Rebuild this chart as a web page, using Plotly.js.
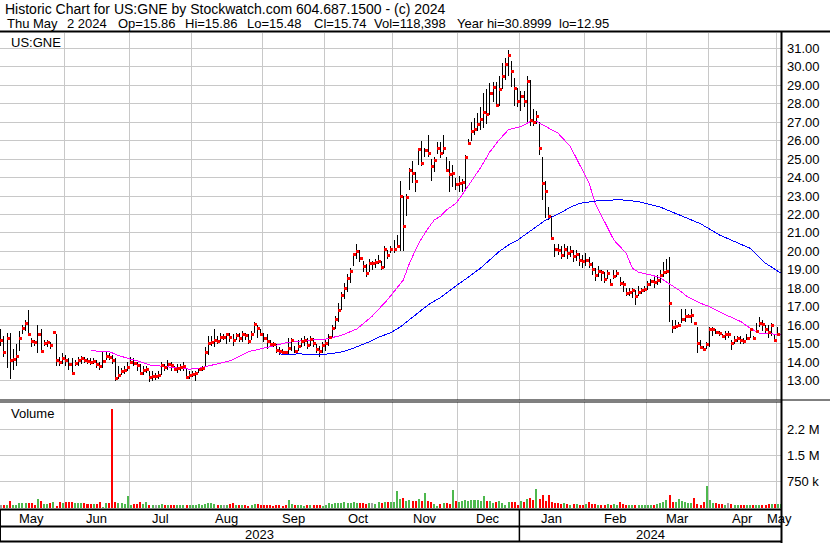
<!DOCTYPE html>
<html><head><meta charset="utf-8">
<script src="https://cdn.plot.ly/plotly-3.0.1.min.js"></script>
<style>
html,body{margin:0;padding:0;background:#fff;}
#chart{width:830px;height:543px;}
.js-plotly-plot .scatterlayer .js-line{shape-rendering:crispEdges;}
.js-plotly-plot .scatterlayer .point{shape-rendering:crispEdges;}
</style></head><body><div id="chart"></div>
<script>
// ---- data ----
const monthNames = ['May','Jun','Jul','Aug','Sep','Oct','Nov','Dec','Jan','Feb','Mar','Apr','May'];
const monthStarts = [0,21,42,62,85,105,127,148,168,189,209,229,251]; // first bar index of each month
const yearNames = ['2023','2024'];
const yearStarts = [0,168];

const closes = [
 15.2,14.5,15.3,14.1,14.15,14.3,15.3,15.8,16.1,15.5,15.1,15.05,15.5,14.6,15.0,15.05,14.9,15.6,14.1,14.0,14.2,
 14.1,13.9,13.4,13.95,14.1,14.2,14.1,14.05,14.0,14.05,13.85,13.75,14.05,14.3,14.25,14.1,13.1,13.3,13.5,13.55,13.7,
 14.0,13.95,13.8,13.4,13.55,13.6,13.15,13.2,13.2,13.3,13.8,13.7,13.9,13.8,13.6,13.65,13.7,13.75,13.15,13.3,
 13.35,13.4,13.6,13.65,14.5,15.0,15.05,15.2,15.1,15.35,15.35,15.5,15.35,15.2,15.45,15.3,15.5,15.45,15.1,15.5,16.05,15.8,15.5,
 15.3,15.1,14.97,14.95,14.63,14.57,14.52,14.5,14.75,15.2,14.6,14.85,15.1,15.2,14.9,15.25,15.0,14.7,14.6,14.9,
 15.0,15.35,15.8,16.3,16.8,17.6,18.0,18.55,18.9,19.85,20.0,19.6,19.18,18.8,19.36,19.36,19.4,19.45,19.14,20.08,19.8,20.08,
 20.1,20.26,23.0,21.35,22.9,24.4,24.23,23.8,25.5,24.77,25.44,25.32,24.6,24.95,25.55,25.3,25.6,24.4,24.14,24.23,23.6,
 23.7,23.75,25.1,25.85,26.5,26.6,26.9,27.15,27.55,27.4,28.55,28.9,27.9,28.75,29.45,30.1,30.6,29.75,28.85,28.1,
 28.4,28.1,29.2,27.1,27.0,27.3,25.6,23.7,23.25,21.9,20.7,20.1,20.05,19.8,20.1,19.9,20.0,19.7,19.85,19.5,19.45,
 19.5,19.3,19.0,18.7,18.9,18.85,18.5,18.8,18.2,18.65,18.8,18.25,18.2,17.73,17.75,17.9,17.55,17.77,17.86,17.95,
 18.2,18.35,18.3,18.4,18.7,18.85,18.9,17.2,15.9,15.95,16.0,16.3,16.45,16.5,16.52,16.07,15.0,14.8,14.66,14.98,
 15.75,15.78,15.6,15.57,15.38,15.48,15.48,15.0,15.2,15.3,15.2,15.1,15.3,15.75,15.3,15.66,16.11,16.02,15.75,15.6,15.96,15.2,
 15.5,15.74
];
const highs = [
 15.8,15.4,15.6,15.6,14.7,15.0,15.7,16.0,16.3,16.8,15.3,15.2,16.0,15.8,15.2,15.2,15.1,15.65,15.5,14.3,14.5,
 14.4,14.2,14.2,14.1,14.3,14.35,14.3,14.2,14.2,14.2,14.1,14.0,14.6,14.6,14.5,14.4,14.2,13.8,13.7,13.8,14.0,
 14.3,14.2,14.0,13.9,13.8,13.8,13.5,13.5,13.4,13.5,14.0,13.9,14.1,14.0,13.8,13.9,13.9,14.0,13.7,13.5,
 13.5,13.5,13.7,13.8,14.8,15.4,15.4,15.8,15.4,15.6,15.5,15.6,15.6,15.5,15.6,15.6,15.7,15.6,15.5,15.7,16.2,16.0,15.8,
 15.6,15.5,15.2,15.1,15.0,14.8,14.7,14.6,15.3,15.3,14.9,15.2,15.3,15.4,15.3,15.4,15.3,15.0,14.9,15.1,
 15.2,15.5,16.0,16.5,17.2,17.8,18.3,18.8,19.1,19.9,20.4,20.1,19.5,19.3,19.6,19.5,19.6,19.8,19.5,20.3,20.1,20.3,
 20.6,20.9,23.8,23.0,23.1,24.5,24.9,24.3,25.6,26.0,25.6,26.3,25.0,25.1,25.9,25.9,26.3,25.1,24.9,24.7,23.95,
 24.1,23.9,25.2,26.1,27.0,27.2,27.5,27.8,28.6,28.8,29.1,29.2,29.2,29.5,30.2,30.5,30.9,30.3,29.4,28.85,
 28.7,28.7,29.5,29.3,27.7,27.6,27.0,25.1,23.8,22.4,21.9,20.4,20.4,20.3,20.4,20.3,20.3,20.1,20.1,19.9,19.8,
 19.9,19.7,19.4,19.1,19.2,19.0,18.9,19.0,18.5,19.0,19.0,18.6,18.4,18.0,18.0,18.0,17.9,18.1,18.0,18.1,
 18.4,18.5,18.6,18.7,19.0,19.4,19.6,19.7,16.3,16.3,16.2,16.9,16.9,16.6,16.9,16.2,15.9,15.2,14.9,15.1,
 15.93,15.9,15.8,15.7,15.5,15.7,15.7,15.2,15.4,15.4,15.4,15.3,15.5,15.8,15.4,16.1,16.47,16.3,16.0,16.0,16.1,15.45,
 15.9,15.86
];
const lows = [
 14.9,14.3,13.7,13.1,13.6,13.8,14.6,15.5,15.7,15.5,14.8,14.9,14.5,14.5,14.9,14.8,14.7,15.5,13.8,13.8,13.9,
 13.8,13.6,13.3,13.8,13.8,13.9,13.95,13.9,13.85,13.9,13.7,13.6,13.7,14.1,14.1,13.9,13.0,13.1,13.3,13.35,13.5,
 13.9,13.8,13.5,13.35,13.3,13.4,12.95,13.0,13.05,13.1,13.3,13.5,13.6,13.5,13.5,13.4,13.5,13.5,13.1,13.1,
 13.2,13.0,13.4,13.5,13.8,14.4,14.9,14.8,15.0,15.1,15.2,15.0,15.1,14.9,15.2,15.1,15.1,15.2,15.0,15.2,15.6,15.3,15.4,
 15.1,14.7,14.9,14.8,14.5,14.4,14.4,14.4,14.4,14.6,14.5,14.6,14.8,14.9,14.7,14.9,14.8,14.5,14.3,14.5,
 14.6,14.9,15.3,15.8,16.2,16.8,17.4,17.8,18.3,19.2,19.6,19.4,18.9,18.6,18.9,19.0,19.1,19.3,19.0,19.1,19.6,19.9,
 19.9,20.2,20.0,20.0,21.9,23.3,23.7,23.2,24.7,24.6,25.1,25.1,23.8,24.3,25.3,25.05,25.3,24.3,23.2,23.5,23.3,
 23.2,23.2,23.3,25.8,26.0,26.3,26.5,26.6,26.7,26.9,27.4,28.1,27.8,27.9,28.8,29.3,29.5,28.9,27.9,27.8,
 27.6,27.8,26.9,26.8,26.8,26.9,25.2,22.8,21.8,21.7,20.6,19.7,19.8,19.6,19.7,19.6,19.7,19.4,19.5,19.2,19.1,
 19.2,19.1,18.7,18.4,18.6,18.4,18.3,18.5,18.1,18.5,18.6,18.1,17.8,17.6,17.6,17.5,17.1,17.6,17.7,17.8,
 17.9,18.1,18.0,18.2,18.3,18.6,18.8,16.2,15.6,15.8,15.9,16.1,16.2,16.4,16.1,16.0,14.5,14.7,14.6,14.7,
 14.84,15.4,15.5,15.4,15.3,15.2,15.3,14.66,15.0,15.1,15.0,15.0,15.2,15.3,15.2,15.6,15.9,15.7,15.6,15.3,15.4,15.15,
 15.4,15.48
];
const volumes = [
 90000,85000,90000,200000,95000,90000,150000,130000,130000,140000,130000,90000,250000,190000,110000,120000,130000,170000,60000,160000,150000,
 160000,160000,160000,150000,150000,150000,130000,110000,110000,110000,115000,180000,40000,140000,130000,2830000,160000,130000,140000,110000,340000,
 80000,110000,110000,160000,120000,180000,100000,100000,90000,100000,110000,90000,100000,80000,80000,80000,80000,90000,90000,80000,
 90000,100000,110000,100000,120000,140000,150000,110000,90000,100000,80000,90000,110000,130000,90000,100000,90000,90000,70000,100000,110000,120000,100000,
 80000,100000,90000,70000,90000,80000,70000,80000,230000,110000,100000,90000,90000,70000,80000,80000,90000,90000,80000,70000,
 100000,130000,120000,130000,130000,140000,160000,150000,150000,160000,150000,150000,150000,120000,150000,150000,110000,180000,130000,160000,170000,170000,
 180000,490000,250000,300000,200000,220000,210000,200000,260000,210000,430000,200000,160000,110000,70000,110000,150000,130000,110000,520000,190000,
 180000,190000,220000,200000,220000,230000,230000,200000,350000,200000,190000,140000,160000,200000,150000,80000,160000,170000,180000,100000,
 200000,180000,260000,300000,240000,540000,250000,380000,200000,370000,160000,150000,140000,120000,130000,110000,100000,120000,110000,90000,90000,
 110000,160000,120000,110000,100000,90000,90000,110000,100000,110000,90000,170000,110000,80000,100000,90000,90000,80000,80000,80000,
 80000,80000,90000,110000,150000,180000,240000,370000,160000,180000,260000,200000,160000,150000,150000,300000,110000,100000,180000,640000,
 220000,150000,130000,120000,110000,100000,130000,110000,100000,90000,80000,90000,100000,100000,90000,80000,100000,90000,80000,110000,120000,120000,
 110000,118398
];
// moving averages (bar index, value)
const maFastIdx = [29,32,35,38,42,45,48,51,55,58,61,64,67,71,74,77,80,84,87,90,93,97,100,105,110,115,120,125,130,132,135,138,140,142,144,147,149,152,155,158,161,164,168,171,173,174,177,180,184,187,190,192,195,198,200,202,204,206,210,213,214,216,219,222,226,229,232,235,239,242,245,248,252];
const maFastVal = [14.66,14.57,14.57,14.36,14.16,14.03,13.85,13.8,13.76,13.67,13.62,13.67,13.8,13.94,14.07,14.3,14.57,14.72,14.84,14.93,15.08,15.15,15.2,15.25,15.45,15.8,16.5,17.4,18.45,19.36,20.45,21.25,21.7,21.9,22.25,22.6,23.06,23.8,24.55,25.4,26.05,26.6,26.76,27.03,27.05,26.95,26.67,26.4,25.67,24.68,23.7,22.6,21.6,20.62,20.26,19.9,19.09,18.87,18.72,18.58,18.45,18.24,17.91,17.52,17.19,17.0,16.74,16.5,16.2,15.84,15.57,15.53,15.5];
const maSlowIdx = [90,93,96,100,103,106,110,113,116,119,122,126,129,132,135,138,142,145,148,151,155,158,161,164,167,171,176,181,184,187,193,200,206,213,219,226,232,236,242,247,252];
const maSlowVal = [14.45,14.4,14.45,14.42,14.4,14.45,14.55,14.7,14.9,15.1,15.35,15.6,15.9,16.3,16.7,17.1,17.5,17.9,18.25,18.6,19.1,19.55,20.0,20.35,20.62,21.1,21.7,22.1,22.4,22.6,22.75,22.8,22.7,22.4,22.0,21.5,20.9,20.62,20.17,19.36,18.82];
const priceTicks = [13,14,15,16,17,18,19,20,21,22,23,24,25,26,27,28,29,30,31];
const volTicks = [750000,1500000,2250000];
const volTickText = ['750 k','1.5 M','2.2 M'];

// ---- build traces ----
const N = closes.length;
const idx = closes.map((_, i) => i);
const hlX = [], hlY = [];
for (let i = 0; i < N; i++) { hlX.push(i, i, null); hlY.push(lows[i], highs[i], null); }
const volColors = closes.map((c, i) => i === 0 ? '#a0a0a0' : (c > closes[i-1] ? '#4db84d' : (c < closes[i-1] ? '#ff0000' : '#a0a0a0')));

const traces = [
  {type:'scatter', mode:'lines', x:hlX, y:hlY, xaxis:'x', yaxis:'y', line:{color:'#000', width:1}, hoverinfo:'skip', showlegend:false},
  {type:'scatter', mode:'lines', x:maFastIdx, y:maFastVal, xaxis:'x', yaxis:'y', line:{color:'#ff00ff', width:1}, hoverinfo:'skip', showlegend:false},
  {type:'scatter', mode:'lines', x:maSlowIdx, y:maSlowVal, xaxis:'x', yaxis:'y', line:{color:'#0000ff', width:1}, hoverinfo:'skip', showlegend:false},
  {type:'scatter', mode:'markers', x:idx.map(i => i + 0.35), y:closes, xaxis:'x', yaxis:'y', marker:{symbol:'square', size:3, color:'#ff0000', line:{width:0}}, hoverinfo:'skip', showlegend:false},
  {type:'bar', x:idx, y:volumes, xaxis:'x2', yaxis:'y2', width:0.65, marker:{color:volColors, line:{width:0}}, hoverinfo:'skip', showlegend:false}
];

// ---- layout ----
const W = 830, H = 543, mt = 33, mb = 33, ml = 0, mr = 49;
const plotW = W - ml - mr, plotH = H - mt - mb;   // 781 x 477
const py = p => (H - mb - p) / plotH;             // pixel row -> paper y
const px = p => (p - ml) / plotW;                 // pixel column -> paper x
const xRange = [-0.26, 252.0];
const bounds = monthStarts.slice(1).map(s => s - 0.5);
const font = {family:'Arial, "Liberation Sans", sans-serif', size:13, color:'#000'};
const font14 = {family:'Arial, "Liberation Sans", sans-serif', size:14, color:'#000'};
const gridC = '#c8c8c8';

const xBase = {range:xRange, tickmode:'array', tickvals:bounds, showticklabels:false, ticks:'', showgrid:true, gridcolor:gridC, gridwidth:1, zeroline:false, showline:false, fixedrange:true};

const annotations = [];
function txt(text, x, y, xanchor, xref, f) {
  annotations.push({text:text, x:x, y:y, xref:xref || 'paper', yref:'paper', xanchor:xanchor || 'left', yanchor:'middle', showarrow:false, font:f || font});
}
txt('Historic Chart for US:GNE by Stockwatch.com 604.687.1500 - (c) 2024', px(3), py(9), 'left', 'paper', font14);
txt('Thu May', px(5), py(23));
txt('2 2024', px(65), py(23));
txt('Op=15.86', px(116), py(23));
txt('Hi=15.86', px(183), py(23));
txt('Lo=15.48', px(245), py(23));
txt('Cl=15.74', px(312), py(23));
txt('Vol=118,398', px(372), py(23));
txt('Year hi=30.8999', px(455), py(23));
txt('lo=12.95', px(557), py(23));
txt('US:GNE', px(9), py(42));
txt('Volume', px(9), py(413));
monthNames.forEach((m, k) => {
  const a = k === 0 ? -0.5 : monthStarts[k] - 0.5;
  const b = k + 1 < monthStarts.length ? monthStarts[k+1] - 0.5 : N - 0.5;
  txt(m, (a + b) / 2, py(518), 'center', 'x');
});
yearNames.forEach((y, k) => {
  const a = k === 0 ? -0.5 : yearStarts[k] - 0.5;
  const b = k + 1 < yearStarts.length ? yearStarts[k+1] - 0.5 : xRange[1];
  txt(y, (a + b) / 2, py(534), 'center', 'x');
});

function hline(y, x0, x1, w) { return {type:'line', xref:'paper', yref:'paper', x0:x0, x1:x1, y0:y, y1:y, line:{color:'#000', width:w}}; }
function vline(x, y0, y1, w, xref) { return {type:'line', xref:xref || 'paper', yref:'paper', x0:x, x1:x, y0:y0, y1:y1, line:{color:'#000', width:w}}; }
const shapes = [
  hline(py(31.5), px(0), px(830), 2),
  hline(py(400), 0, 1, 1),
  hline(py(402), 0, 1, 1),
  hline(py(400), 1, px(830), 1),
  hline(py(509.5), 0, 1, 2),
  hline(py(526.5), 0, 1, 2),
  hline(py(541.5), 0, 1, 2),
  vline(px(781.5), py(31), py(543), 2),
  vline(px(0.5), py(510), py(541), 1),
  vline(yearStarts[1] - 0.5, py(510), py(541), 1.5, 'x')
];

const layout = {
  width:W, height:H, margin:{l:ml, r:mr, t:mt, b:mb, pad:0},
  paper_bgcolor:'#fff', plot_bgcolor:'#fff', showlegend:false, hovermode:false,
  font:font, bargap:0,
  xaxis:Object.assign({}, xBase, {anchor:'y'}),
  xaxis2:Object.assign({}, xBase, {anchor:'y2', matches:'x'}),
  yaxis:{domain:[py(400), 1], range:[11.95, 31.83], side:'right', tickmode:'array', tickvals:priceTicks, ticktext:priceTicks.map(v => v.toFixed(2)), ticks:'', ticklabelstandoff:5, showgrid:true, gridcolor:gridC, gridwidth:1, zeroline:false, showline:false, tickfont:font, fixedrange:true, anchor:'x'},
  yaxis2:{domain:[py(508), py(402)], range:[0, 3.03e6], side:'right', tickmode:'array', tickvals:volTicks, ticktext:volTickText, ticks:'', ticklabelstandoff:5, showgrid:true, gridcolor:gridC, gridwidth:1, zeroline:false, showline:false, tickfont:font, fixedrange:true, anchor:'x2'},
  annotations:annotations, shapes:shapes
};
Plotly.newPlot('chart', traces, layout, {displayModeBar:false, staticPlot:true});
</script></body></html>
